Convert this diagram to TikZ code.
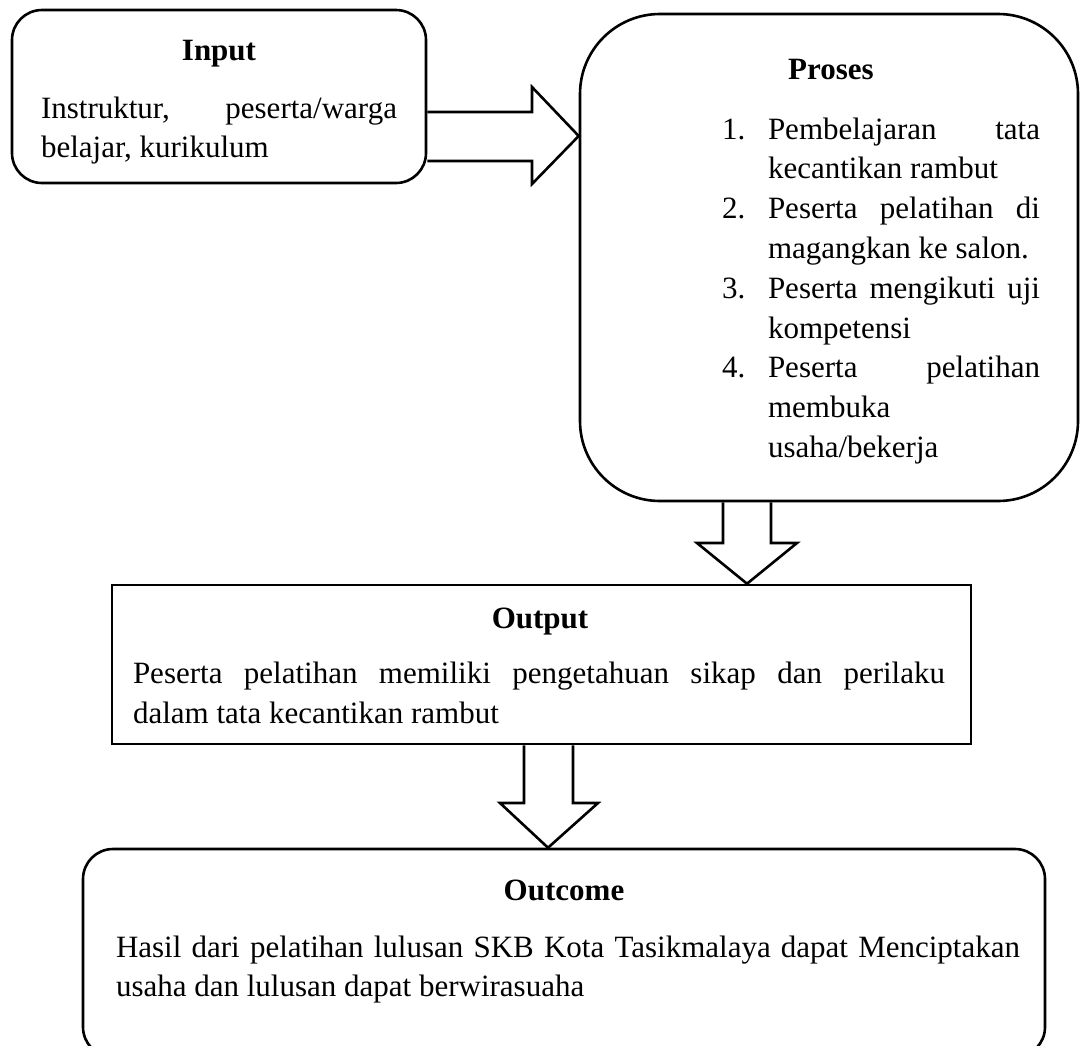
\documentclass[tikz,border=0pt]{standalone}
\usepackage{fontspec}
\setmainfont{Liberation Serif}
\begin{document}
\begin{tikzpicture}[x=1pt,y=-1pt,
  frame/.style={draw=black, line width=2.6pt},
  blockarrow/.style={draw=black, line width=2.6pt, line join=miter},
  txt/.style={inner sep=0pt, outer sep=0pt, anchor=base west, font=\fontsize{31}{40}\selectfont},
  ttl/.style={inner sep=0pt, outer sep=0pt, anchor=base, font=\fontsize{31}{40}\selectfont\bfseries}]
\useasboundingbox (0,0) rectangle (1081,1045);
\fill[white] (0,0) rectangle (1081,1045);

% boxes
\node[frame, rounded corners=30pt, minimum width=414pt, minimum height=173pt, inner sep=0pt] (input) at (219,96.5) {};
\node[frame, rounded corners=80pt, minimum width=498pt, minimum height=487pt, inner sep=0pt] (proses) at (829,257.5) {};
\node[frame, minimum width=859pt, minimum height=159pt, inner sep=0pt] (output) at (541.5,664.5) {};
\node[frame, rounded corners=30pt, minimum width=962pt, minimum height=208pt, inner sep=0pt] (outcome) at (564,953) {};

% block arrows
\coordinate (t1) at (proses.west |- 0,136);
\draw[blockarrow] (input.east |- 0,112) -- (532,112) -- (532,87) -- (t1) -- (532,184) -- (532,161) -- (input.east |- 0,161);
\coordinate (t2) at (747,0 |- output.north);
\draw[blockarrow] (723,0 |- proses.south) -- (723,543) -- (697,543) -- (t2) -- (797,543) -- (771,543) -- (771,0 |- proses.south);
\coordinate (t3) at (548,0 |- outcome.north);
\draw[blockarrow] (524,0 |- output.south) -- (524,803) -- (500,803) -- (t3) -- (598,803) -- (573,803) -- (573,0 |- output.south);

% Input text
\node[ttl] (inT) at (219,60) {Input};
\node[txt] (in1) at (41,118) {\makebox[356pt][s]{Instruktur, peserta/warga}};
\node[txt] (in2) at (41,157) {belajar, kurikulum};

% Proses text
\node[ttl] (prT) at (831,79) {Proses};
\node[txt] (n1) at (722,139) {1.};
\node[txt] (n2) at (722,218.6) {2.};
\node[txt] (n3) at (722,298.2) {3.};
\node[txt] (n4) at (722,377.8) {4.};
\node[txt] (p1) at (768,139) {\makebox[272pt][s]{Pembelajaran tata}};
\node[txt] (p2) at (768,178.8) {kecantikan rambut};
\node[txt] (p3) at (768,218.6) {\makebox[272pt][s]{Peserta pelatihan di}};
\node[txt] (p4) at (768,258.4) {magangkan ke salon.};
\node[txt] (p5) at (768,298.2) {\makebox[272pt][s]{Peserta mengikuti uji}};
\node[txt] (p6) at (768,338) {kompetensi};
\node[txt] (p7) at (768,377.8) {\makebox[272pt][s]{Peserta pelatihan}};
\node[txt] (p8) at (768,417.6) {membuka};
\node[txt] (p9) at (768,457.4) {usaha/bekerja};

% Output text
\node[ttl] (ouT) at (540,628) {Output};
\node[txt] (o1) at (133,683) {\makebox[812pt][s]{Peserta pelatihan memiliki pengetahuan sikap dan perilaku}};
\node[txt] (o2) at (133,723) {dalam tata kecantikan rambut};

% Outcome text
\node[ttl] (ocT) at (564,900) {Outcome};
\node[txt] (c1) at (116,957) {\makebox[904pt][s]{Hasil dari pelatihan lulusan SKB Kota Tasikmalaya dapat Menciptakan}};
\node[txt] (c2) at (116,996) {usaha dan lulusan dapat berwirasuaha};
\end{tikzpicture}
\end{document}
